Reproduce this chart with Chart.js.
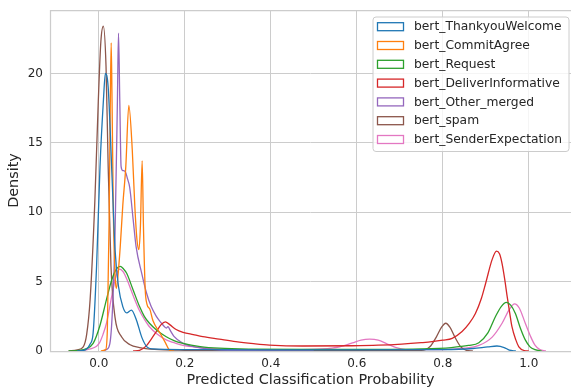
<!DOCTYPE html>
<html>
<head>
<meta charset="utf-8">
<script src="https://cdn.jsdelivr.net/npm/chart.js@4.4.0/dist/chart.umd.min.js"></script>
<style>
body { margin: 0; background: #fff; }
#wrap { width: 571px; height: 390px; }
</style>
</head>
<body>
<div id="wrap"><canvas id="kde" width="571" height="390"></canvas></div>
<script>
// series names / colours (legend order)
var seriesNames = ["bert_ThankyouWelcome", "bert_CommitAgree", "bert_Request", "bert_DeliverInformative",
  "bert_Other_merged", "bert_spam", "bert_SenderExpectation"];
var seriesColors = ["#1f77b4", "#ff7f0e", "#2ca02c", "#d62728", "#9467bd", "#8c564b", "#e377c2"];

var xTicks = [0, 0.2, 0.4, 0.6, 0.8, 1.0];
var yTicks = [0, 5, 10, 15, 20];

// density curves (x = probability, y = density)
var thankyouX = [-0.05, -0.03, -0.02, -0.013, -0.005, 0.003, 0.011, 0.0155, 0.022, 0.03, 0.038, 0.046, 0.056, 0.065, 0.076, 0.088, 0.1, 0.112, 0.125, 0.2, 0.4, 0.6, 0.8, 0.87, 0.905, 0.926, 0.943, 0.955, 0.97];
var thankyouY = [0, 0.1, 0.5, 1.3, 6.1, 13.3, 18.1, 20.0, 19.0, 13.3, 7.3, 4.65, 3.2, 2.75, 2.95, 2.2, 1.0, 0.3, 0.15, 0.1, 0.08, 0.08, 0.1, 0.18, 0.3, 0.36, 0.25, 0.06, 0];

var commitX = [0.005, 0.016, 0.02, 0.024, 0.027, 0.029, 0.031, 0.034, 0.038, 0.041, 0.045, 0.05, 0.056, 0.063, 0.07, 0.078, 0.084, 0.089, 0.0935, 0.097, 0.101, 0.104, 0.108, 0.112, 0.119, 0.126, 0.143, 0.155, 0.165, 0.175];
var commitY = [0, 0.1, 1.5, 9, 18, 22.2, 18, 10, 5.5, 4.5, 5.5, 7.5, 10.5, 13.3, 17.7, 14.5, 10.4, 8.0, 7.3, 9, 13.7, 9, 4.5, 3.4, 3.0, 2.2, 1.27, 0.6, 0.05, 0];

var requestX = [-0.07, -0.045, -0.03, -0.013, 0.002, 0.018, 0.03, 0.041, 0.05, 0.058, 0.065, 0.08, 0.095, 0.106, 0.118, 0.135, 0.157, 0.175, 0.196, 0.236, 0.28, 0.35, 0.5, 0.65, 0.75, 0.82, 0.86, 0.884, 0.905, 0.923, 0.936, 0.948, 0.958, 0.969, 0.98, 0.992, 1.003, 1.015, 1.03];
var requestY = [0, 0.05, 0.15, 0.55, 1.75, 3.7, 5.1, 5.9, 6.1, 5.9, 5.6, 4.4, 3.2, 2.5, 2.0, 1.5, 1.03, 0.75, 0.55, 0.32, 0.2, 0.14, 0.12, 0.12, 0.15, 0.25, 0.4, 0.6, 1.3, 2.5, 3.2, 3.5, 3.3, 2.7, 1.7, 0.8, 0.3, 0.1, 0];

var deliverX = [0.08, 0.095, 0.11, 0.123, 0.134, 0.145, 0.155, 0.165, 0.18, 0.196, 0.22, 0.242, 0.28, 0.319, 0.36, 0.397, 0.474, 0.59, 0.65, 0.705, 0.75, 0.775, 0.8, 0.822, 0.845, 0.862, 0.876, 0.89, 0.9, 0.915, 0.925, 0.932, 0.938, 0.944, 0.95, 0.956, 0.961, 0.97, 0.977, 0.99, 1.0];
var deliverY = [0, 0.05, 0.35, 0.9, 1.4, 1.9, 2.1, 1.9, 1.55, 1.35, 1.18, 1.03, 0.85, 0.67, 0.53, 0.43, 0.36, 0.38, 0.42, 0.5, 0.6, 0.67, 0.78, 0.91, 1.4, 2.0, 2.7, 3.8, 4.9, 6.6, 7.2, 7.0, 6.3, 5.2, 3.9, 2.7, 1.75, 0.8, 0.3, 0.03, 0];

var otherX = [0.01, 0.018, 0.026, 0.032, 0.038, 0.0435, 0.046, 0.049, 0.052, 0.056, 0.062, 0.067, 0.072, 0.08, 0.087, 0.1, 0.111, 0.122, 0.134, 0.146, 0.153, 0.157, 0.161, 0.166, 0.175, 0.195, 0.215, 0.24, 0.27, 0.3, 0.35, 0.5];
var otherY = [0, 0.1, 0.55, 3, 8.5, 18.1, 22.9, 18, 13.3, 13.0, 12.9, 12.4, 11.8, 9.5, 7.5, 5.6, 4.2, 3.2, 2.5, 2.0, 1.75, 1.65, 1.75, 1.5, 1.05, 0.57, 0.35, 0.2, 0.1, 0.05, 0.02, 0.01];

var spamX = [-0.07, -0.05, -0.036, -0.028, -0.02, -0.009, -0.001, 0.005, 0.0107, 0.017, 0.022, 0.0285, 0.038, 0.053, 0.073, 0.095, 0.13, 0.2, 0.3, 0.6, 0.75, 0.77, 0.785, 0.797, 0.807, 0.817, 0.83, 0.842, 0.855, 0.87];
var spamY = [0, 0.08, 0.3, 1.2, 3.7, 10.8, 18, 22.3, 23.4, 20.5, 13.3, 6.1, 2.4, 1.03, 0.45, 0.25, 0.12, 0.05, 0.03, 0.03, 0.05, 0.3, 1.0, 1.7, 2.0, 1.7, 0.9, 0.3, 0.05, 0];

var senderX = [-0.06, -0.035, -0.02, -0.005, 0.002, 0.01, 0.018, 0.03, 0.04, 0.049, 0.057, 0.065, 0.08, 0.095, 0.106, 0.118, 0.135, 0.157, 0.175, 0.196, 0.236, 0.28, 0.35, 0.45, 0.52, 0.56, 0.59, 0.61, 0.63, 0.65, 0.67, 0.69, 0.72, 0.8, 0.85, 0.884, 0.915, 0.938, 0.955, 0.967, 0.978, 0.992, 1.005, 1.015, 1.025, 1.04];
var senderY = [0, 0.05, 0.15, 0.35, 0.6, 1.2, 2.0, 3.9, 5.4, 5.9, 5.7, 5.2, 4.0, 2.9, 2.3, 1.75, 1.25, 0.8, 0.6, 0.4, 0.25, 0.15, 0.1, 0.1, 0.15, 0.3, 0.58, 0.78, 0.85, 0.78, 0.52, 0.27, 0.1, 0.1, 0.2, 0.4, 1.0, 2.0, 3.0, 3.4, 3.1, 2.0, 1.0, 0.4, 0.12, 0];

var seriesX = [thankyouX, commitX, requestX, deliverX, otherX, spamX, senderX];
var seriesY = [thankyouY, commitY, requestY, deliverY, otherY, spamY, senderY];

function toPoints(xs, ys) {
  var pts = [];
  for (var i = 0; i < xs.length; i++) pts.push({x: xs[i], y: ys[i]});
  return pts;
}

var datasets = seriesNames.map(function (name, i) {
  return {
    label: name,
    data: toPoints(seriesX[i], seriesY[i]),
    borderColor: seriesColors[i],
    borderWidth: 1.3,
    pointRadius: 0,
    fill: false,
    cubicInterpolationMode: 'monotone'
  };
});

// spines: left, top, bottom
var framePlugin = {
  id: 'frame',
  beforeDatasetsDraw: function (chart) {
    var a = chart.chartArea, ctx = chart.ctx;
    ctx.save();
    ctx.strokeStyle = '#cccccc';
    ctx.lineWidth = 1.25;
    ctx.beginPath();
    ctx.moveTo(a.right, a.top + 0.5);
    ctx.lineTo(a.left + 0.5, a.top + 0.5);
    ctx.lineTo(a.left + 0.5, a.bottom + 0.5);
    ctx.lineTo(a.right, a.bottom + 0.5);
    ctx.stroke();
    ctx.restore();
  }
};

// matplotlib style legend in the upper right corner
var legendPlugin = {
  id: 'boxLegend',
  afterDraw: function (chart) {
    var ctx = chart.ctx;
    var left = 373, top = 17, right = 569, bottom = 151.5, r = 3;
    ctx.save();
    ctx.beginPath();
    ctx.moveTo(left + r, top);
    ctx.arcTo(right, top, right, bottom, r);
    ctx.arcTo(right, bottom, left, bottom, r);
    ctx.arcTo(left, bottom, left, top, r);
    ctx.arcTo(left, top, right, top, r);
    ctx.closePath();
    ctx.fillStyle = 'rgba(255,255,255,0.8)';
    ctx.fill();
    ctx.strokeStyle = '#cccccc';
    ctx.lineWidth = 1;
    ctx.stroke();
    ctx.font = "12.3px 'DejaVu Sans'";
    ctx.textBaseline = 'middle';
    chart.data.datasets.forEach(function (ds, i) {
      var cy = 26.7 + i * 18.8;
      ctx.fillStyle = '#ffffff';
      ctx.fillRect(377.5, cy - 4, 26, 8);
      ctx.strokeStyle = ds.borderColor;
      ctx.lineWidth = 1.3;
      ctx.strokeRect(377.5, cy - 4, 26, 8);
      ctx.fillStyle = '#262626';
      ctx.fillText(ds.label, 414, cy + 0.5);
    });
    ctx.restore();
  }
};

Chart.defaults.font.family = "'DejaVu Sans', sans-serif";
Chart.defaults.color = '#262626';

new Chart(document.getElementById('kde'), {
  type: 'line',
  data: {datasets: datasets},
  options: {
    responsive: false,
    animation: false,
    layout: {padding: {top: 10, right: 0, left: 0, bottom: 0}},
    plugins: {legend: {display: false}, tooltip: {enabled: false}},
    scales: {
      x: {
        type: 'linear',
        min: -0.1133,
        max: 1.0983,
        afterBuildTicks: function (scale) {
          scale.ticks = xTicks.map(function (v) { return {value: v}; });
        },
        afterFit: function (scale) {
          scale.height = 39;
          scale.paddingLeft = 0;
          scale.paddingRight = 0;
        },
        ticks: {
          autoSkip: false,
          maxRotation: 0,
          padding: 6,
          font: {size: 12},
          callback: function (v) { return v.toFixed(1); }
        },
        grid: {color: '#cccccc', lineWidth: 1, drawTicks: false},
        border: {display: false},
        title: {display: true, text: 'Predicted Classification Probability', font: {size: 14.4}, padding: {top: 0, bottom: 1}}
      },
      y: {
        type: 'linear',
        min: 0,
        max: 24.57,
        afterBuildTicks: function (scale) {
          scale.ticks = yTicks.map(function (v) { return {value: v}; });
        },
        afterFit: function (scale) {
          scale.width = 50;
          scale.paddingTop = 0;
          scale.paddingBottom = 0;
        },
        ticks: {
          padding: 7,
          font: {size: 12},
          callback: function (v) { return String(v); }
        },
        grid: {color: '#cccccc', lineWidth: 1, drawTicks: false},
        border: {display: false},
        title: {display: true, text: 'Density', font: {size: 14.4}, padding: {top: 6, bottom: 0}}
      }
    }
  },
  plugins: [framePlugin, legendPlugin]
});
</script>
</body>
</html>
